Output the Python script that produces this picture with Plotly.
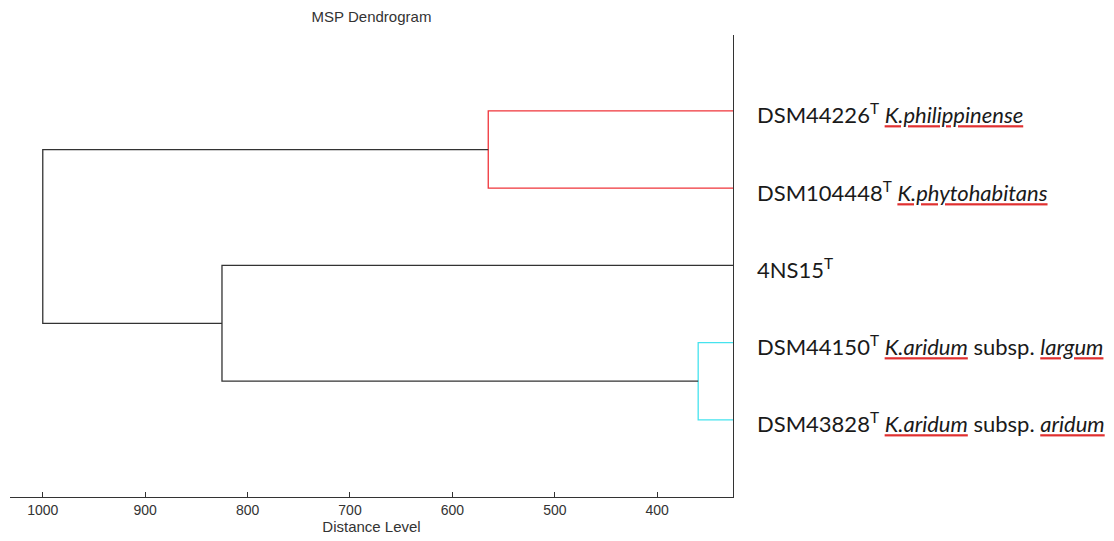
import plotly.graph_objects as go

# ---- data ----
leaf_labels = [
    'DSM44226<sup>T</sup> <i>K.philippinense</i>',
    'DSM104448<sup>T</sup> <i>K.phytohabitans</i>',
    '4NS15<sup>T</sup>',
    'DSM44150<sup>T</sup> <i>K.aridum</i> subsp. <i>largum</i>',
    'DSM43828<sup>T</sup> <i>K.aridum</i> subsp. <i>aridum</i>',
]
leaf_order = [1, 2, 3, 4, 5]
leaf_level = 326
# merges: (child a, child b, distance, colour)
merge_a = ['L0', 'L3', 'L2', 'C0']
merge_b = ['L1', 'L4', 'C1', 'C2']
merge_dist = [565, 360, 825, 1000]
merge_color = ['#f0343a', '#46e3ee', '#333333', '#333333']
x_ticks = [1000, 900, 800, 700, 600, 500, 400]

# ---- build dendrogram ----
nodes = {}
for i, p in enumerate(leaf_order):
    nodes[f'L{i}'] = (leaf_level, p)

fig = go.Figure()
for i, (a, b, h, c) in enumerate(zip(merge_a, merge_b, merge_dist, merge_color)):
    xa, ya = nodes[a]
    xb, yb = nodes[b]
    fig.add_trace(go.Scatter(
        x=[xa, h, h, xb], y=[ya, ya, yb, yb], mode='lines',
        line=dict(color=c, width=1.3), hoverinfo='skip', showlegend=False))
    nodes[f'C{i}'] = (h, (ya + yb) / 2)

# small leaf tick marks
fig.add_trace(go.Scatter(
    x=[leaf_level - 4] * len(leaf_order), y=leaf_order, mode='markers',
    marker=dict(symbol='line-ns-open', size=9, line=dict(color='#aaaaaa', width=1)),
    cliponaxis=False, hoverinfo='skip', showlegend=False))

def spell_mark(txt):
    outer = '<span style="text-decoration:underline;color:#e03030">'
    inner = '<span style="color:#1a1a1a">'
    return (txt.replace('<i>', f'<i>{outer}{inner}')
               .replace('</i>', '</span></span></i>'))

for lab, p in zip(leaf_labels, leaf_order):
    fig.add_annotation(
        x=1, xref='paper', y=p, yref='y', text=spell_mark(lab), showarrow=False,
        xanchor='left', yanchor='middle', xshift=22, yshift=-3,
        font=dict(family='Lato', size=22, color='#1a1a1a'))

W, H = 1106, 533
fig.update_layout(
    width=W, height=H,
    margin=dict(l=2, r=381, t=27, b=44),
    paper_bgcolor='white', plot_bgcolor='white',
    title=dict(text='MSP Dendrogram', x=(371.5 - 8) / W, xanchor='center',
               y=1 - (17 - 8) / H, yanchor='middle',
               font=dict(family='Arial', size=15, color='#333333')),
    xaxis=dict(range=[1032, leaf_level], tickvals=x_ticks, ticks='inside', ticklen=5,
               tickcolor='#333333', showgrid=False, zeroline=False,
               showline=True, linecolor='#333333', linewidth=1.3,
               tickfont=dict(family='Arial', size=14, color='#333333'),
               title=dict(text='Distance Level', standoff=2,
                          font=dict(family='Arial', size=15, color='#333333'))),
    yaxis=dict(range=[6, 0.016], side='right', showticklabels=False, ticks='',
               showgrid=False, zeroline=False, showline=True,
               linecolor='#333333', linewidth=1.3),
)

fig.write_html('out.html')
